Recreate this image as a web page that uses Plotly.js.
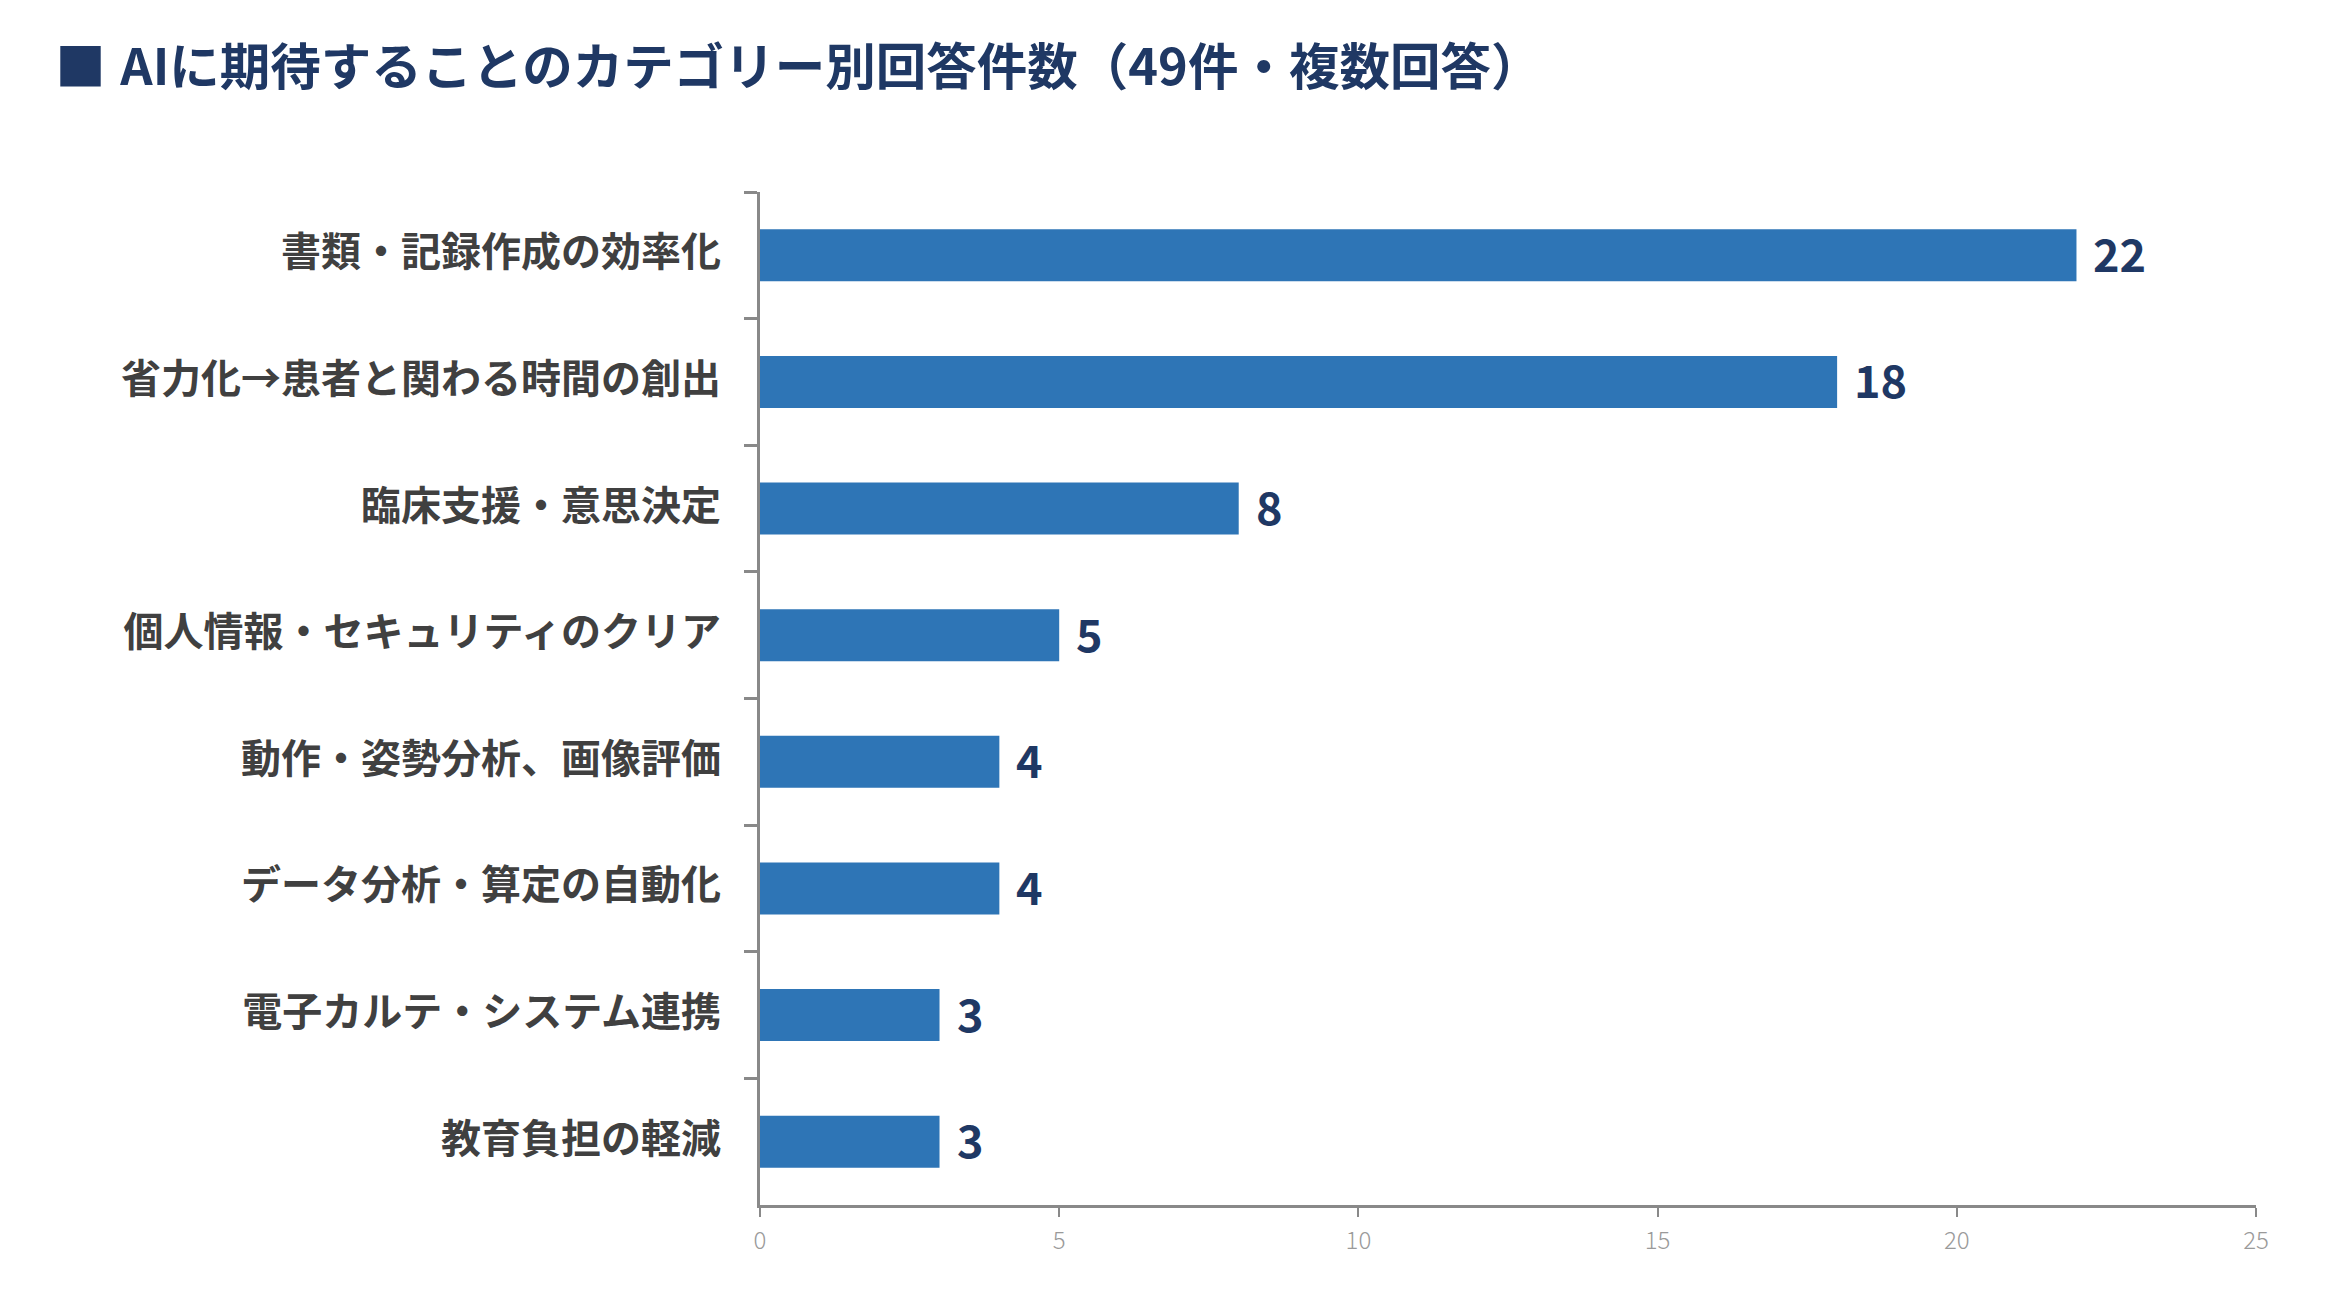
<!DOCTYPE html>
<html>
<head>
<meta charset="utf-8">
<script src="https://cdn.plot.ly/plotly-3.0.1.min.js"></script>
<style>
  html, body { margin: 0; padding: 0; background: #ffffff; }
  #chart { width: 2348px; height: 1306px; }
</style>
</head>
<body>
<div id="chart"></div>
<script>
const titleText = "■ \u200AAIに期待することのカテゴリー別回答件数（49件・複数回答）";
const categories = [
  "書類・記録作成の効率化",
  "省力化→患者と関わる時間の創出",
  "臨床支援・意思決定",
  "個人情報・セキュリティのクリア",
  "動作・姿勢分析、画像評価",
  "データ分析・算定の自動化",
  "電子カルテ・システム連携",
  "教育負担の軽減"
];
const counts = [22, 18, 8, 5, 4, 4, 3, 3];
const xTickValues = [0, 5, 10, 15, 20, 25];

const FONT = "'Noto Sans CJK JP', 'Noto Sans', sans-serif";
const NAVY = "#1F3864";
const BAR = "#2E75B6";
const AXIS = "#898989";

const trace = {
  type: "bar",
  orientation: "h",
  x: counts,
  y: categories,
  marker: { color: BAR },
  width: 0.41,
  hoverinfo: "skip"
};

const annotations = counts.map((v, i) => ({
  x: v,
  y: categories[i],
  xref: "x",
  yref: "y",
  text: String(v),
  showarrow: false,
  xanchor: "left",
  yanchor: "middle",
  xshift: 15,
  yshift: 3,
  font: { family: FONT, size: 45, color: NAVY, weight: 700 }
}));

const layout = {
  width: 2348,
  height: 1306,
  paper_bgcolor: "#ffffff",
  plot_bgcolor: "#ffffff",
  showlegend: false,
  margin: { l: 760, r: 92, t: 192, b: 101, pad: 0 },
  title: {
    text: titleText,
    xref: "container",
    yref: "container",
    x: 0.0235,
    xanchor: "left",
    y: 1 - 67 / 1306,
    yanchor: "middle",
    font: { family: FONT, size: 50.5, color: NAVY, weight: 700 }
  },
  xaxis: {
    range: [0, 25],
    tickvals: xTickValues,
    ticktext: xTickValues.map(String),
    showgrid: false,
    zeroline: false,
    showline: true,
    linecolor: AXIS,
    linewidth: 3,
    ticks: "outside",
    ticklen: 9,
    tickwidth: 2,
    tickcolor: AXIS,
    ticklabelstandoff: 3,
    tickfont: { family: FONT, size: 24, color: "#9a9a9a", weight: 300 },
    fixedrange: true
  },
  yaxis: {
    type: "category",
    autorange: "reversed",
    showgrid: false,
    zeroline: false,
    showline: true,
    linecolor: AXIS,
    linewidth: 3,
    ticks: "outside",
    tickson: "boundaries",
    ticklen: 13,
    tickwidth: 3,
    tickcolor: AXIS,
    ticklabelstandoff: 28,
    ticklabelshift: 3,
    tickfont: { family: FONT, size: 40, color: "#404040", weight: 700 },
    fixedrange: true
  },
  annotations: annotations
};

Plotly.newPlot("chart", [trace], layout, { displayModeBar: false, staticPlot: true });
</script>
</body>
</html>
